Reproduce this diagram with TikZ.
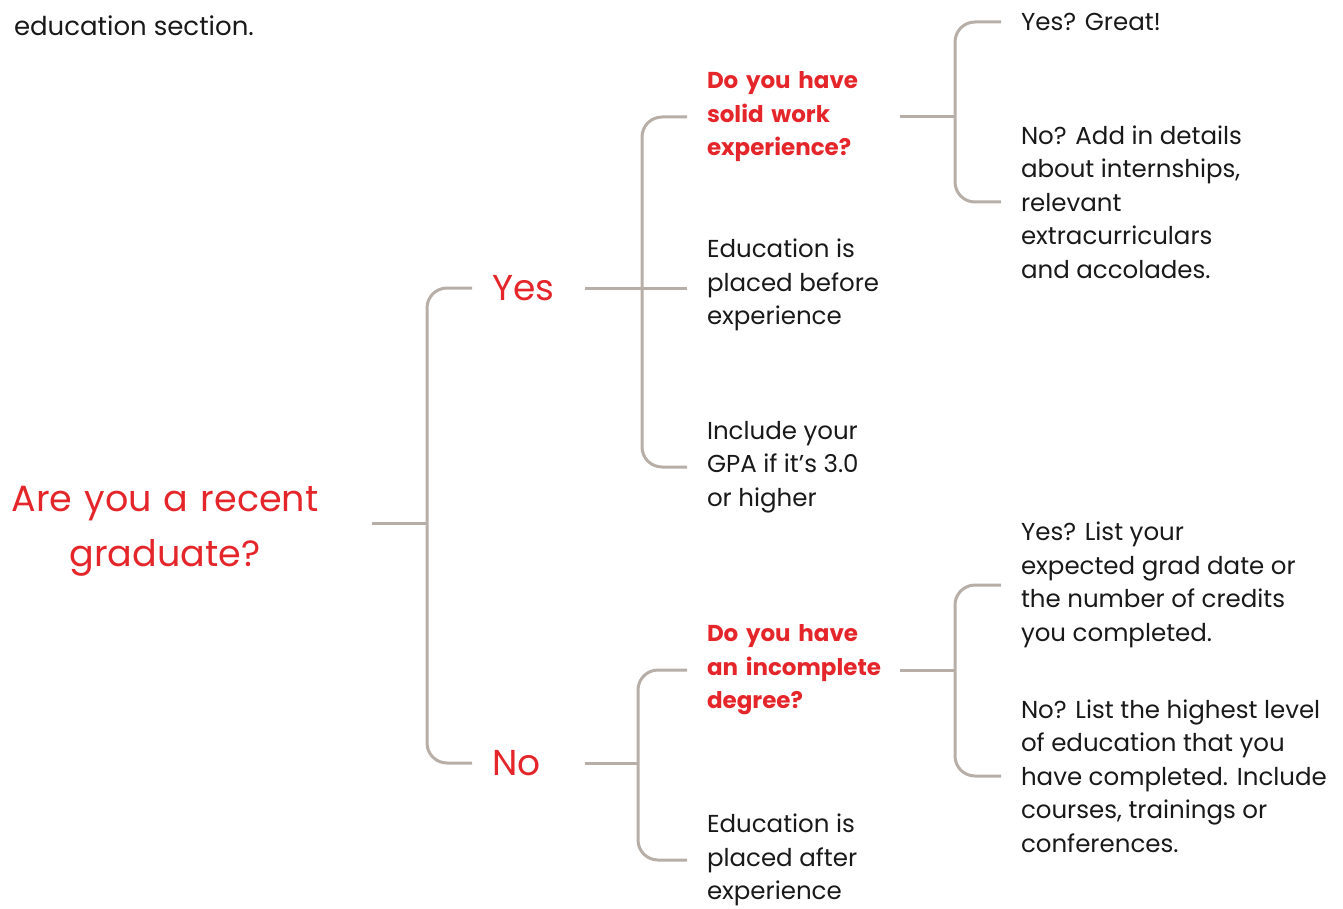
\documentclass[tikz,border=0pt]{standalone}
\usepackage{fontspec}
\setmainfont{Poppins}
\definecolor{branchgrey}{HTML}{B6AEA7}
\definecolor{askred}{HTML}{E4262B}
\tikzset{
    branch/.style={draw=branchgrey, line width=3pt, rounded corners=20pt},
    answer/.style={anchor=west, align=left, inner sep=0pt, outer xsep=20pt, text=black!90, font=\fontsize{24.5}{33.5}\selectfont},
    question/.style={answer, text width=173pt, text=askred, font=\fontsize{23}{33.5}\selectfont\bfseries},
    choice/.style={anchor=west, inner sep=0pt, outer xsep=20pt, text width=73pt, text=askred, font=\fontsize{36}{46}\selectfont},
}
\begin{document}
\begin{tikzpicture}[x=1pt, y=-1pt]
            \useasboundingbox (0,0) rectangle (1343,909);

            \node[answer, anchor=base west, outer xsep=0pt, font=\fontsize{26}{33.5}\selectfont] (intro) at (14,36) {education section.};
            \node[align=center, inner sep=0pt, outer xsep=20pt, text width=374pt, text=askred, font=\fontsize{36.5}{55}\selectfont] (root) at (165,531) {Are you a recent\\graduate?};

            \node[choice] (yes) at (472,288) {Yes};
            \node[choice] (no) at (472,763) {No};

            \node[question] (solid) at (687,117) {Do you have\\solid work\\experience?};
            \node[answer] (before) at (687,285) {Education is\\placed before\\experience};
            \node[answer] (gpa) at (687,467) {Include your\\GPA if it’s 3.0\\or higher};

            \node[question] (incomplete) at (687,670) {Do you have\\\mbox{an incomplete}\\degree?};
            \node[answer] (after) at (687,860) {Education is\\placed after\\experience};

            \node[answer] (great) at (1001,22) {Yes? Great!};
            \node[answer] (addin) at (1001,202) {No? Add in details\\about internships,\\relevant\\extracurriculars\\and accolades.};
            \node[answer] (gradlist) at (1001,585) {Yes? List your\\expected grad date or\\the number of credits\\you completed.};
            \node[answer] (highest) at (1001,776) {No? List the highest level\\of education that you\\have completed. Include\\courses, trainings or\\conferences.};

            \coordinate (rj) at (427,523);
            \coordinate (yj) at (642,288);
            \coordinate (nj) at (638,763);
            \coordinate (sj) at (955,117);
            \coordinate (ij) at (955,670);

            \draw[branch] (rj -| root.east) -- (rj);
            \draw[branch] (yes.west) -| (rj) |- (no.west);

            \draw[branch] (yes.east) -- (yes.east -| before.west);
            \draw[branch] (solid.west) -| (yj) |- (gpa.west);
            \draw[branch] (no.east) -- (nj);
            \draw[branch] (incomplete.west) -| (nj) |- (after.west);

            \draw[branch] (solid.east) -- (sj);
            \draw[branch] (great.west) -| (sj) |- (addin.west);
            \draw[branch] (incomplete.east) -- (ij);
            \draw[branch] (gradlist.west) -| (ij) |- (highest.west);
\end{tikzpicture}
\end{document}
